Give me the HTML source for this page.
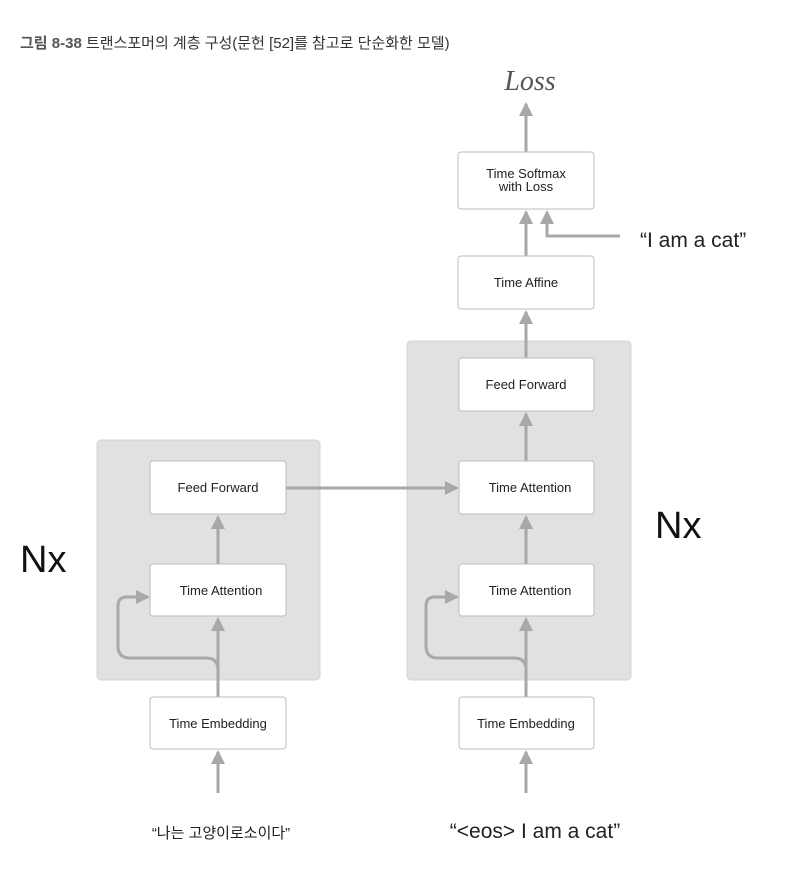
<!DOCTYPE html>
<html><head><meta charset="utf-8"><style>
body{margin:0;background:#fff;width:786px;height:892px;overflow:hidden}
svg{display:block}
</style></head><body>
<svg width="786" height="892" viewBox="0 0 786 892" xmlns="http://www.w3.org/2000/svg">
<defs><marker id="a" markerWidth="6" markerHeight="6" refX="5" refY="3" orient="auto" markerUnits="userSpaceOnUse" viewBox="0 0 6 6"><path d="M0,0 L6,3 L0,6z" fill="#a8a8a8"/></marker>
<marker id="b" markerWidth="14" markerHeight="14" refX="12" refY="7" orient="auto" markerUnits="userSpaceOnUse"><path d="M0,0 L14,7 L0,14z" fill="#a8a8a8"/></marker></defs>
<text x="20" y="48" font-family="'Liberation Sans','Noto Sans CJK KR',sans-serif" font-size="15" fill="#333"><tspan font-weight="bold" fill="#555">그림 8-38</tspan>  트랜스포머의 계층 구성(문헌 [52]를 참고로 단순화한 모델)</text>
<text x="530" y="90" text-anchor="middle" font-family="'Liberation Serif',serif" font-style="italic" font-size="28" fill="#555">Loss</text>
<rect x="97" y="440" width="223" height="240" rx="4" fill="#e0e1e1" stroke="#d4d4d4"/>
<rect x="407" y="341" width="224" height="339" rx="4" fill="#e0e1e1" stroke="#d4d4d4"/>
<g fill="none" stroke="#a8a8a8" stroke-width="3">
<line x1="526" y1="152" x2="526" y2="104" marker-end="url(#b)"/>
<line x1="526" y1="256" x2="526" y2="212" marker-end="url(#b)"/>
<polyline points="620,236 547,236 547,212" marker-end="url(#b)"/>
<line x1="526" y1="358" x2="526" y2="312" marker-end="url(#b)"/>
<line x1="526" y1="461" x2="526" y2="414" marker-end="url(#b)"/>
<line x1="526" y1="564" x2="526" y2="517" marker-end="url(#b)"/>
<line x1="526" y1="697" x2="526" y2="619" marker-end="url(#b)"/>
<line x1="526" y1="793" x2="526" y2="752" marker-end="url(#b)"/>
<path d="M526,690 L526,670 Q526,658 514,658 L438,658 Q426,658 426,646 L426,606 Q426,597 435,597 L457,597" marker-end="url(#b)"/>
<line x1="218" y1="564" x2="218" y2="517" marker-end="url(#b)"/>
<line x1="218" y1="697" x2="218" y2="619" marker-end="url(#b)"/>
<line x1="218" y1="793" x2="218" y2="752" marker-end="url(#b)"/>
<path d="M218,690 L218,670 Q218,658 206,658 L130,658 Q118,658 118,646 L118,606 Q118,597 127,597 L148,597" marker-end="url(#b)"/>
<line x1="286" y1="488" x2="457" y2="488" marker-end="url(#b)"/>
</g>
<g fill="#fff" stroke="#bdbdbd" stroke-width="1">
<rect x="458" y="152" width="136" height="57" rx="3"/>
<rect x="458" y="256" width="136" height="53" rx="3"/>
<rect x="459" y="358" width="135" height="53" rx="3"/>
<rect x="459" y="461" width="135" height="53" rx="3"/>
<rect x="459" y="564" width="135" height="52" rx="3"/>
<rect x="459" y="697" width="135" height="52" rx="3"/>
<rect x="150" y="461" width="136" height="53" rx="3"/>
<rect x="150" y="564" width="136" height="52" rx="3"/>
<rect x="150" y="697" width="136" height="52" rx="3"/>
</g>
<g font-family="'Liberation Sans',sans-serif" font-size="13" fill="#222" text-anchor="middle">
<text x="526" y="178">Time Softmax</text><text x="526" y="191">with Loss</text>
<text x="526" y="287">Time Affine</text>
<text x="526" y="389">Feed Forward</text>
<text x="530" y="492">Time Attention</text>
<text x="530" y="595">Time Attention</text>
<text x="526" y="728">Time Embedding</text>
<text x="218" y="492">Feed Forward</text>
<text x="221" y="595">Time Attention</text>
<text x="218" y="728">Time Embedding</text>
</g>
<text x="640" y="247" font-family="'Liberation Sans',sans-serif" font-size="21" fill="#222">“I am a cat”</text>
<text x="20" y="572" font-family="'Liberation Sans',sans-serif" font-size="38" fill="#111">Nx</text>
<text x="655" y="538" font-family="'Liberation Sans',sans-serif" font-size="38" fill="#111">Nx</text>
<text x="221" y="838" text-anchor="middle" font-family="'Liberation Sans','Noto Sans CJK KR',sans-serif" font-size="15" fill="#222">“나는 고양이로소이다”</text>
<text x="535" y="838" text-anchor="middle" font-family="'Liberation Sans',sans-serif" font-size="21" fill="#222">“&lt;eos&gt; I am a cat”</text>
</svg>
</body></html>
